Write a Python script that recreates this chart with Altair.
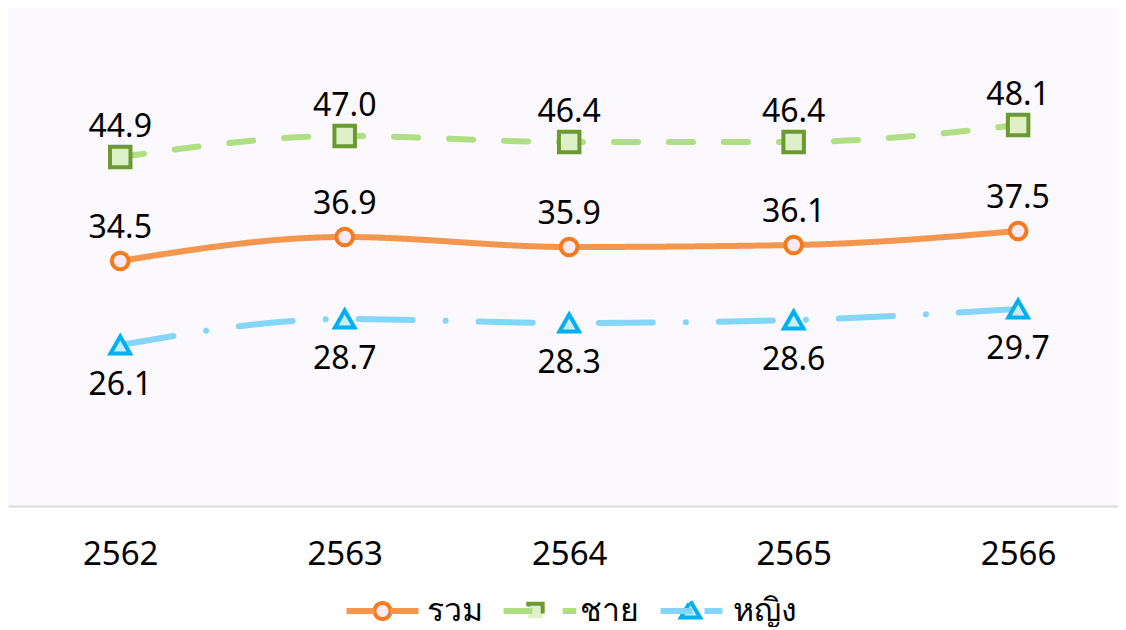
import altair as alt
import pandas as pd

years = [2562, 2563, 2564, 2565, 2566]
series_names = ["รวม", "ชาย", "หญิง"]
total = [34.5, 36.9, 35.9, 36.1, 37.5]
male = [44.9, 47.0, 46.4, 46.4, 48.1]
female = [26.1, 28.7, 28.3, 28.6, 29.7]

line_colors = ["#f5964f", "#b0de82", "#84d5f7"]
marker_strokes = ["#f47a1f", "#6a9a30", "#00b0f0"]
marker_fills = ["#fde8f6", "#ddf0c8", "#c9eef9"]
marker_shapes = ["circle", "square", "triangle-up"]
marker_sizes = [280, 420, 380]
label_dy = [-33, -30, 40]

rows = []
for name, vals in zip(series_names, [total, male, female]):
    for y, v in zip(years, vals):
        rows.append({"year": y, "series": name, "value": v})
df = pd.DataFrame(rows)

FONT = "Noto Sans"

# legend glyphs (unit coordinates): markers and the line stubs beside them
legend_marker_paths = [
    "M-1,0M8,0M4.5,0A1,1 0 1,1 2.5,0A1,1 0 1,1 4.5,0Z",
    "M-1,0M8.1,0M2.6,-0.9L4.4,-0.9L4.4,0.9L2.6,0.9Z",
    "M-1,0M6.75,0M3.75,-1.2L4.95,0.8L2.55,0.8Z",
]
legend_stub_paths = [
    "M-1,0L2.5,0M4.5,0L8,0",
    "M-1,0L2.6,0M6.4,0L8.1,0",
    "M-1,0L3.0,0M4.5,0L6.75,0",
]


def by_series(values):
    return (f"datum.value == '{series_names[0]}' ? '{values[0]}' : "
            f"datum.value == '{series_names[1]}' ? '{values[1]}' : '{values[2]}'")


LEG_X, LEG_Y = 330.5, 587
common = dict(title=None, orient="none", legendX=LEG_X, legendY=LEG_Y, direction="horizontal",
              values=series_names, symbolSize=256, symbolOpacity=1, labelFontSize=32,
              labelFont=FONT, labelColor="black", labelOffset=56.5, columnPadding=0,
              gridAlign="all", padding=0)

stub_legend = alt.Legend(symbolType={"expr": by_series(legend_stub_paths)},
                         symbolStrokeWidth=6, labelOpacity=0, **common)
marker_legend = alt.Legend(symbolFillColor={"expr": by_series(marker_fills)},
                           symbolStrokeColor={"expr": by_series(marker_strokes)},
                           symbolStrokeWidth=4, **common)

x_enc = alt.X(
    "year:Q",
    scale=alt.Scale(domain=[2561.5, 2566.445], nice=False, zero=False),
    axis=alt.Axis(values=years, format="d", title=None, grid=False, ticks=False,
                  domainColor="#d9d9d9", domainWidth=2, labelFontSize=33,
                  labelColor="black", labelPadding=32, labelFont=FONT,
                  labelFlush=False),
)
y_enc = alt.Y("value:Q", scale=alt.Scale(domain=[10, 59.8], nice=False, zero=False), axis=None)

base = alt.Chart(df)

lines = base.mark_line(strokeWidth=6, interpolate="monotone", strokeCap="round").encode(
    x=x_enc, y=y_enc,
    color=alt.Color("series:N", scale=alt.Scale(domain=series_names[::-1], range=line_colors[::-1]),
                    legend=stub_legend),
    strokeDash=alt.StrokeDash("series:N", scale=alt.Scale(domain=series_names,
                              range=[[1, 0], [24, 31], [54, 33, 0.1, 33]]), legend=None),
)

marker_layers = []
for name, shp, sz, st, fl in zip(series_names, marker_shapes, marker_sizes, marker_strokes, marker_fills):
    marker_layers.append(
        base.transform_filter(alt.datum.series == name).mark_point(
            opacity=1, strokeWidth=4, shape=shp, size=sz, stroke=st, fill=fl, filled=False
        ).encode(x=x_enc, y=y_enc)
    )

legend_layer = base.mark_point(opacity=0, strokeWidth=4).encode(
    x=x_enc, y=y_enc,
    shape=alt.Shape("series:N", scale=alt.Scale(domain=series_names, range=legend_marker_paths),
                    legend=marker_legend),
    stroke=alt.Stroke("series:N", scale=alt.Scale(domain=series_names, range=marker_strokes), legend=None),
    fill=alt.Fill("series:N", scale=alt.Scale(domain=series_names, range=marker_fills), legend=None),
)

label_layers = []
for name, dy in zip(series_names, label_dy):
    label_layers.append(
        base.transform_filter(alt.datum.series == name).mark_text(
            fontSize=32, font=FONT, color="black", dy=dy
        ).encode(x=x_enc, y=y_enc, text=alt.Text("value:Q", format=".1f"))
    )

chart = alt.layer(
    legend_layer, lines, *marker_layers, *label_layers,
).properties(
    width=1110, height=498,
    padding={"left": 0, "top": 0, "right": 0, "bottom": 0},
).configure_view(fill="#fbf9fd", stroke="transparent", strokeWidth=0)

chart.save("out.html", embed_options={"renderer": "svg", "actions": False})
